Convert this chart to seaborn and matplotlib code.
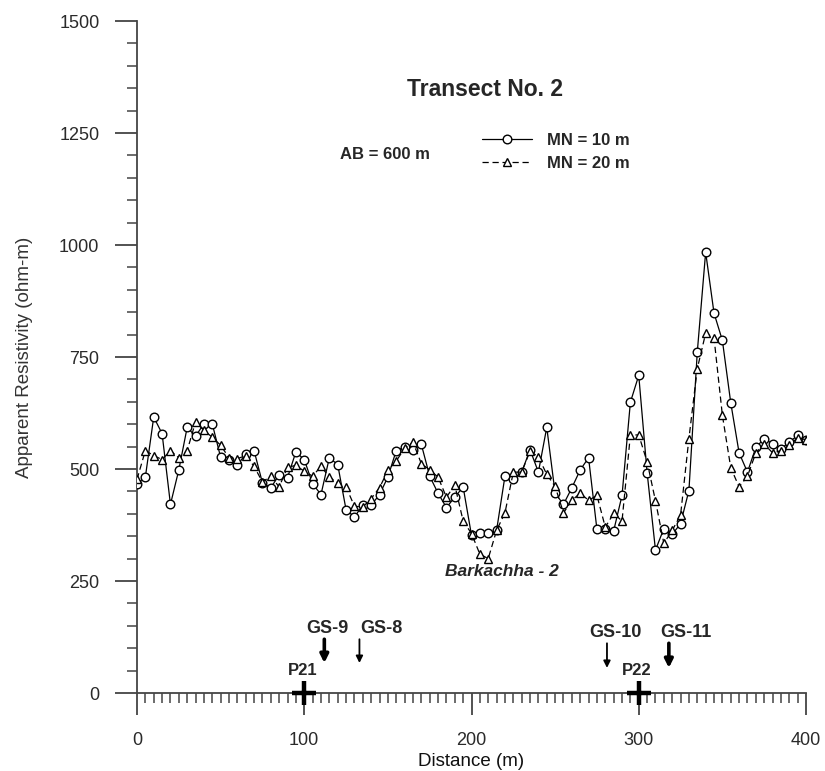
import matplotlib
matplotlib.use("Agg")
import matplotlib.pyplot as plt
import seaborn as sns
import pandas as pd
from matplotlib.ticker import MultipleLocator

# ---------------- data ----------------
distance = [0, 5, 10, 15, 20, 25, 30, 35, 40, 45, 50, 55, 60, 65, 70, 75, 80, 85, 90, 95,
            100, 105, 110, 115, 120, 125, 130, 135, 140, 145, 150, 155, 160, 165, 170, 175, 180, 185, 190, 195,
            200, 205, 210, 215, 220, 225, 230, 235, 240, 245, 250, 255, 260, 265, 270, 275, 280, 285, 290, 295,
            300, 305, 310, 315, 320, 325, 330, 335, 340, 345, 350, 355, 360, 365, 370, 375, 380, 385, 390, 395,
            400]

mn10 = [467, 482, 616, 579, 421, 498, 593, 573, 601, 601, 526, 521, 508, 534, 541, 469, 458, 487, 481, 538,
        521, 467, 443, 525, 510, 409, 393, 419, 419, 443, 482, 541, 549, 543, 555, 484, 446, 414, 437, 460,
        352, 357, 357, 363, 484, 478, 493, 543, 493, 593, 446, 421, 458, 498, 525, 365, 365, 362, 441, 649,
        709, 492, 319, 367, 354, 378, 452, 761, 984, 848, 787, 648, 536, 493, 548, 568, 556, 545, 560, 575,
        565]

mn20 = [477, 541, 530, 521, 541, 525, 541, 605, 586, 571, 553, 525, 523, 530, 506, 471, 484, 460, 504, 508,
        495, 484, 506, 482, 469, 460, 417, 415, 434, 458, 497, 518, 546, 560, 512, 498, 482, 437, 464, 384,
        356, 310, 300, 363, 402, 493, 493, 540, 527, 488, 461, 402, 430, 446, 430, 441, 370, 401, 384, 576,
        576, 516, 429, 334, 363, 397, 568, 724, 803, 793, 620, 503, 460, 484, 536, 556, 536, 541, 553, 570,
        565]

series_labels = ["MN = 10 m", "MN = 20 m"]

# borehole / pit annotations
gs_names = ["GS-9", "GS-8", "GS-10", "GS-11"]
gs_x = [112, 133, 281, 318]
gs_text_x = [114, 146, 286, 328]
gs_text_y = [145, 145, 134, 134]
gs_arrow_top = [120, 120, 111, 111]
gs_arrow_tip = [67, 67, 56, 56]
gs_bold = [True, False, False, True]

pit_names = ["P21", "P22"]
pit_x = [100, 300]
pit_y = [0, 0]
pit_label_y = 50

df = pd.DataFrame({
    "Distance (m)": distance * 2,
    "Apparent Resistivity (ohm-m)": mn10 + mn20,
    "series": [series_labels[0]] * len(distance) + [series_labels[1]] * len(distance),
})

# ---------------- figure ----------------
sns.set_style("ticks")
plt.rcParams["font.family"] = ["Liberation Sans", "DejaVu Sans"]

W, H = 825, 771
fig = plt.figure(figsize=(W / 100, H / 100), dpi=100)
ax = fig.add_axes([137 / W, 1 - 693 / H, (806 - 137) / W, (693 - 21) / H])

d10 = df[df["series"] == series_labels[0]]
d20 = df[df["series"] == series_labels[1]]

sns.lineplot(data=d10, x="Distance (m)", y="Apparent Resistivity (ohm-m)", ax=ax,
             color="black", linewidth=0.9, marker="o", markersize=6.2,
             markerfacecolor="white", markeredgecolor="black", markeredgewidth=1.0,
             label=series_labels[0], zorder=3)
sns.lineplot(data=d20, x="Distance (m)", y="Apparent Resistivity (ohm-m)", ax=ax,
             color="black", linewidth=0.9, marker="^", markersize=5.2,
             markerfacecolor="white", markeredgecolor="black", markeredgewidth=1.0,
             label=series_labels[1], zorder=4)
ax.lines[-1].set_dashes([5, 3])

ax.set_xlim(0, 400)
ax.set_ylim(0, 1500)

# axes styling
for s in ["top", "right"]:
    ax.spines[s].set_visible(False)
for s in ["left", "bottom"]:
    ax.spines[s].set_color("#444444")
    ax.spines[s].set_linewidth(1.3)

ax.xaxis.set_major_locator(MultipleLocator(100))
ax.xaxis.set_minor_locator(MultipleLocator(5))
ax.yaxis.set_major_locator(MultipleLocator(250))
ax.yaxis.set_minor_locator(MultipleLocator(50))
ax.tick_params(axis="both", which="major", direction="out", length=16, width=1.3,
               color="#444444", labelsize=13, labelcolor="#2a2a2a")
ax.tick_params(axis="both", which="minor", direction="out", length=7, width=1.1, color="#444444")
ax.tick_params(axis="x", which="major", pad=12)
ax.tick_params(axis="y", which="major", pad=11)

ax.set_xlabel("Distance (m)", fontsize=13.5, color="#111111", labelpad=3)
ax.set_ylabel("Apparent Resistivity (ohm-m)", fontsize=13.5, color="#333333", labelpad=19)

# legend
leg = ax.legend(loc="upper left", bbox_to_anchor=(482 / W, 1 - 133 / H),
                bbox_transform=fig.transFigure, frameon=False,
                prop={"weight": "bold", "size": 12}, handlelength=3.0,
                handletextpad=0.9, labelspacing=0.45, borderpad=0, borderaxespad=0)

# texts
ax.text(208, 1348, "Transect No. 2", ha="center", va="center",
        fontsize=16.5, fontweight="bold")
ax.text(148, 1203, "AB = 600 m", ha="center", va="center",
        fontsize=12, fontweight="bold")
ax.text(218, 272, "Barkachha - 2", ha="center", va="center",
        fontsize=12.5, fontweight="bold", fontstyle="italic")

for name, x, tx, ty, top, tip, bold in zip(gs_names, gs_x, gs_text_x, gs_text_y,
                                           gs_arrow_top, gs_arrow_tip, gs_bold):
    ax.text(tx, ty, name, ha="center", va="center", fontsize=13, fontweight="bold")
    lw = 2.6 if bold else 1.3
    ax.annotate("", xy=(x, tip), xytext=(x, top),
                arrowprops=dict(arrowstyle="-|>", color="black", lw=lw,
                                mutation_scale=12 if bold else 10, shrinkA=0, shrinkB=0))

for name, x, y in zip(pit_names, pit_x, pit_y):
    ax.plot([x], [y], marker="+", markersize=17, markeredgewidth=3.2,
            color="black", clip_on=False, zorder=6)
    ax.text(x - 1, pit_label_y, name, ha="center", va="center",
            fontsize=12, fontweight="bold")

fig.savefig("out.png", dpi=100)
